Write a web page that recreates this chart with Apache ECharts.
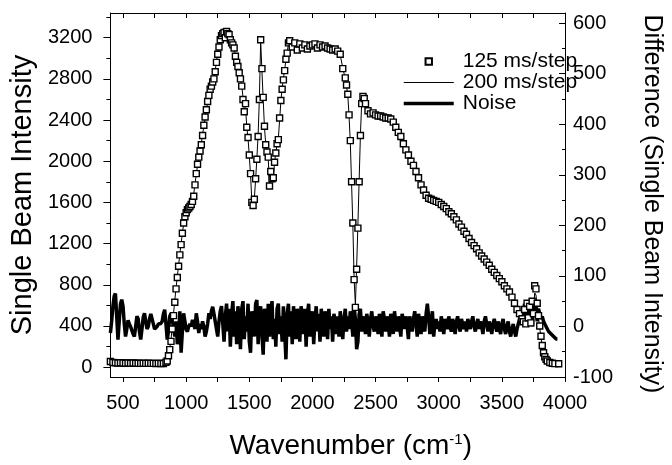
<!DOCTYPE html>
<html>
<head>
<meta charset="utf-8">
<script src="https://cdn.jsdelivr.net/npm/echarts@6.0.0/dist/echarts.min.js"></script>
<style>
  html, body { margin: 0; padding: 0; background: #fff; }
  #chart { width: 672px; height: 465px; }
</style>
</head>
<body>
<div id="chart"></div>
<script>
// wavenumber grid of the two scans (cm-1), finer where the spectrum is steep
const wavenumber = [
  400, 420, 440, 460, 480, 500, 520, 540, 560, 580, 600, 620, 640, 660, 680, 700, 720, 740, 760, 780, 800, 820, 840,
  850, 860, 870, 880, 890, 900, 910, 920, 930, 940, 950, 960, 970, 980, 990, 1000, 1010, 1020, 1030, 1040, 1050, 1060, 1070, 1080, 1090, 1100,
  1110, 1120, 1130, 1140, 1150, 1160, 1170, 1180, 1190, 1200, 1210, 1220, 1230, 1240, 1250, 1260, 1270, 1280, 1290, 1300,
  1310, 1320, 1330, 1340, 1350, 1360, 1370, 1380, 1390, 1400, 1410, 1420, 1430, 1440,
  1450, 1460, 1470, 1480, 1490, 1500, 1510, 1520, 1530, 1540, 1550, 1560, 1570, 1580, 1590, 1600, 1610, 1620, 1630, 1640, 1650, 1660, 1670, 1680, 1690, 1700, 1710, 1720, 1730, 1740, 1750, 1760, 1770, 1780, 1790, 1800, 1810, 1820,
  1840, 1860, 1880, 1900, 1920, 1940, 1960, 1980, 2000, 2020, 2040, 2060, 2080, 2100, 2120, 2140, 2160, 2180, 2200, 2220, 2240, 2260,
  2270, 2280, 2290, 2300, 2310, 2320, 2330, 2340, 2350, 2360, 2370, 2380, 2390, 2400, 2410, 2420,
  2440, 2460, 2480, 2500, 2520, 2540, 2560, 2580, 2600, 2620, 2640, 2660, 2680, 2700, 2720, 2740, 2760, 2780, 2800, 2820, 2840, 2860, 2880, 2900, 2920, 2940, 2960, 2980, 3000, 3020,
  3040, 3060, 3080, 3100, 3120, 3140, 3160, 3180, 3200, 3220, 3240, 3260, 3280, 3300, 3320, 3340, 3360, 3380, 3400, 3420, 3440, 3460, 3480, 3500, 3520, 3540, 3560, 3580, 3600, 3620, 3640, 3660,
  3670, 3680, 3690, 3700, 3710, 3720, 3730, 3740, 3750, 3760, 3770, 3780, 3790, 3800, 3810, 3820, 3830, 3840, 3850, 3860,
  3880, 3900, 3920, 3950
]

// single beam intensity, 125 ms/step (squares)
const scan125 = [
  55, 45, 42, 40, 42, 40, 38, 40, 38, 40, 38, 38, 36, 38, 36, 38, 36, 36, 35, 36, 35, 35, 48,
  60, 110, 170, 250, 370, 500, 630, 760, 870, 980, 1090, 1190, 1300, 1400, 1460, 1500, 1530, 1545, 1560, 1580, 1610, 1660, 1770, 1880, 1970, 2040,
  2100, 2160, 2250, 2350, 2430, 2500, 2580, 2640, 2700, 2730, 2770, 2800, 2870, 2960, 3040, 3110, 3180, 3220, 3240, 3250,
  3200, 3260, 3240, 3230, 3180, 3150, 3130, 3100, 3020, 2960, 2920, 2860, 2800, 2730,
  2600, 2480, 2560, 2330, 2230, 2060, 1880, 1600, 1570, 1630, 1830, 2020, 2240, 2600, 3180, 2900, 2620, 2340, 2160, 2090, 2040, 1760, 1900, 1830, 1840, 1990, 2080, 2170, 2210, 2420, 2590, 2700, 2790, 2880, 2990, 3050, 3150, 3170,
  3110, 3150, 3080, 3140, 3100, 3130, 3090, 3120, 3130, 3140, 3100, 3130, 3110, 3120, 3100, 3090, 3080, 3090, 3070, 3040, 2900, 2810,
  2740, 2650, 2450, 2200, 1800, 1400, 850, 580, 950, 1350, 1800, 2250, 2560, 2630, 2610, 2560,
  2490, 2460, 2470, 2450, 2440, 2440, 2430, 2420, 2420, 2410, 2380, 2330, 2280, 2240, 2170, 2110, 2060, 2000, 1960, 1900, 1840, 1770, 1720, 1670, 1640, 1630, 1620, 1610, 1600, 1580,
  1560, 1540, 1510, 1490, 1460, 1430, 1390, 1360, 1320, 1290, 1250, 1210, 1180, 1150, 1110, 1080, 1050, 1020, 990, 950, 920, 890, 860, 830, 790, 760, 730, 680, 620, 560, 520, 470,
  440, 560, 420, 620, 480, 590, 430, 640, 520, 790, 760, 620, 500, 400, 300, 210, 140, 100, 75, 60,
  45, 38, 34, 32
]

// single beam intensity, 200 ms/step (thin line)
const scan200 = [
  50, 44, 40, 41, 40, 40, 39, 39, 38, 39, 38, 37, 37, 37, 36, 37, 36, 35, 35, 35, 35, 36, 45,
  65, 120, 180, 270, 390, 520, 650, 770, 880, 990, 1100, 1200, 1300, 1390, 1450, 1490, 1520, 1550, 1570, 1590, 1620, 1680, 1780, 1870, 1960, 2030,
  2100, 2170, 2260, 2340, 2420, 2510, 2570, 2630, 2690, 2740, 2780, 2810, 2880, 2970, 3050, 3120, 3170, 3210, 3230, 3240,
  3220, 3250, 3240, 3220, 3190, 3160, 3120, 3090, 3030, 2970, 2910, 2850, 2790, 2740,
  2620, 2500, 2520, 2340, 2220, 2050, 1860, 1620, 1580, 1640, 1820, 2030, 2260, 2620, 3170, 2880, 2600, 2330, 2170, 2100, 2020, 1780, 1880, 1820, 1850, 1980, 2090, 2160, 2220, 2400, 2580, 2710, 2800, 2890, 2980, 3060, 3140, 3160,
  3120, 3140, 3090, 3130, 3110, 3120, 3100, 3110, 3120, 3130, 3110, 3120, 3110, 3110, 3100, 3090, 3090, 3080, 3070, 3030, 2910, 2800,
  2730, 2640, 2440, 2180, 1780, 1380, 860, 600, 970, 1380, 1820, 2260, 2570, 2620, 2600, 2550,
  2480, 2470, 2460, 2450, 2440, 2430, 2430, 2420, 2410, 2400, 2370, 2320, 2270, 2230, 2160, 2100, 2050, 1990, 1950, 1890, 1830, 1770, 1710, 1670, 1640, 1630, 1620, 1600, 1590, 1580,
  1560, 1530, 1510, 1480, 1450, 1420, 1390, 1350, 1320, 1280, 1240, 1210, 1170, 1140, 1110, 1080, 1050, 1010, 980, 950, 920, 890, 860, 820, 790, 750, 720, 670, 610, 560, 510, 480,
  480, 520, 470, 560, 500, 560, 480, 600, 560, 720, 700, 600, 480, 380, 290, 200, 140, 100, 75, 60,
  44, 38, 34, 32
]

// difference of the two scans (right axis), one value every 10 cm-1 from 400
const noiseStart = 400
const noiseStep = 10
const noise = [
  -13, 10, 40, 60, 65, 20, -26, 10, 45, 53,
  40, 5, -20, -5, 12, 5, 0, -8, -15, -20,
  0, 20, 15, -10, -26, -5, 18, 26, 10, -5,
  0, 15, 25, 15, 5, -5, -6, 0, 5, 8,
  6, 10, 25, 33, 5, -26, -10, 20, 26, 10,
  0, -20, 10, -35, -20, 30, -52, -10, 26, 10,
  -6, -10, 0, 5, 0, 13, 10, -5, 26, 10,
  -13, 5, -5, 10, 0, -20, -10, 5, 26, 15,
  30, 39, 25, 10, -5, -20, 10, 30, 40, 5,
  -30, 20, 45, -10, 35, -40, 25, 50, -20, 30,
  -35, 40, 10, -45, 35, 50, -25, 20, -10, 45,
  -30, -52, 30, 15, -20, 45, 52, -35, 20, 40,
  -15, -56, 35, 10, -30, 45, -20, 30, 50, -25,
  15, -40, 35, 45, -15, 20, -30, 40, -10, -65,
  25, 45, -20, 30, -35, 40, 10, -25, 35, 5,
  -30, 40, 20, -15, 35, -40, 25, 45, -20, 10,
  30, -35, 15, 40, -10, 25, -30, 35, 5, -20,
  30, 15, -25, 35, -5, 20, -30, 25, 10, -15,
  20, -20, 30, 5, -25, 15, 35, -10, 20, -5,
  30, 10, -20, 40, 15, -45, -30, 25, 35, -10,
  20, 5, -15, 25, 10, -20, 15, 30, 0, -10,
  20, 10, -15, 25, 5, -20, 30, 15, -10, 20,
  5, -20, 25, 10, -15, 30, 5, -10, 20, 0,
  -20, 25, 15, -5, 20, 0, -25, 20, 10, -10,
  15, 30, 5, -20, 25, 10, -15, 20, 0, -10,
  25, 45, 20, -15, 10, 30, -20, 5, 15, -5,
  10, -10, 20, 5, -15, 15, 5, -5, 20, 0,
  -10, 15, 5, -15, 10, 20, 0, -10, 15, 5,
  -5, 10, -10, 15, 5, -5, 10, 20, 0, -10,
  5, 15, -5, 10, 0, -15, 10, 20, 5, -10,
  10, 0, -15, 5, 15, 0, -10, 10, -5, -15,
  5, 15, -5, -15, 0, 10, -10, -20, -5, 5,
  -10, -20, -5, 5, 15, 25, 10, 30, 45, 20,
  50, 15, 35, 55, 0, 40, 20, 50, 10, 35,
  25, 15, 20, 10, 5, 0, -5, -10, -10, -15,
  -15, -20, -20, -25, -25
]

// tick marks and labels
const xLabelValues = [500, 1000, 1500, 2000, 2500, 3000, 3500, 4000]
const xTickValues = [500, 750, 1000, 1250, 1500, 1750, 2000, 2250, 2500, 2750, 3000, 3250, 3500, 3750, 4000]
const leftLabelValues = [0, 400, 800, 1200, 1600, 2000, 2400, 2800, 3200]
const leftMinorValues = [200, 600, 1000, 1400, 1800, 2200, 2600, 3000, 3400]
const rightLabelValues = [-100, 0, 100, 200, 300, 400, 500, 600]
const rightMinorValues = [-50, 50, 150, 250, 350, 450, 550]

const FONT = "'Liberation Sans', Arial, Helvetica, sans-serif"
const LEFT_MIN = -96, LEFT_MAX = 3440
const RIGHT_MIN = -100, RIGHT_MAX = 620

function pairs (xs, ys) {
  return ys.map(function (v, i) { return [xs[i], v] })
}

// plain numbers, no thousands separator
function plain (v) {
  return String(v)
}

let chart = echarts.init(document.getElementById('chart'), null, { renderer: 'canvas' })

let blackLine = { color: '#000', width: 1 }

let option = {
  backgroundColor: '#fff',
  animation: false,
  grid: { left: 104, right: 87, top: 13, bottom: 85 },
  legend: {
    orient: 'vertical',
    left: 397,
    top: 46,
    itemWidth: 50,
    itemHeight: 8,
    itemGap: 0,
    selectedMode: false,
    textStyle: { fontSize: 21, color: '#000', fontFamily: FONT, lineHeight: 18, padding: [0, 0, 0, 4] },
    data: [
      { name: '125 ms/step' },
      { name: '200 ms/step', itemStyle: { opacity: 0 }, lineStyle: { width: 1.2 } },
      { name: 'Noise', itemStyle: { opacity: 0 }, lineStyle: { width: 3.5 } }
    ]
  },
  xAxis: [{
    type: 'value',
    position: 'bottom',
    min: 400,
    max: 4000,
    axisLine: { show: true, onZero: false, lineStyle: blackLine },
    axisTick: { show: true, customValues: xTickValues, length: 5, lineStyle: blackLine },
    axisLabel: { customValues: xLabelValues, formatter: plain, fontSize: 20, color: '#000', fontFamily: FONT, margin: 16 },
    splitLine: { show: false },
    name: 'Wavenumber (cm{s|-1})',
    nameLocation: 'middle',
    nameGap: 55,
    nameTextStyle: {
      fontSize: 28, color: '#000', fontFamily: FONT, padding: [0, 0, 0, 26],
      rich: { s: { fontSize: 15, color: '#000', fontFamily: FONT, verticalAlign: 'top' } }
    }
  }, {
    type: 'value',
    position: 'top',
    min: 400,
    max: 4000,
    axisLine: { show: true, onZero: false, lineStyle: blackLine },
    axisTick: { show: true, inside: true, customValues: xTickValues, length: 5, lineStyle: blackLine },
    axisLabel: { show: false },
    splitLine: { show: false }
  }],
  yAxis: [{
    type: 'value',
    position: 'left',
    min: LEFT_MIN,
    max: LEFT_MAX,
    axisLine: { show: true, onZero: false, lineStyle: blackLine },
    axisTick: { show: true, customValues: leftLabelValues, length: 7, lineStyle: blackLine },
    axisLabel: { customValues: leftLabelValues, formatter: plain, fontSize: 20, color: '#000', fontFamily: FONT, margin: 18 },
    splitLine: { show: false },
    name: 'Single Beam Intensity',
    nameLocation: 'middle',
    nameGap: 66,
    nameTextStyle: { fontSize: 29, color: '#000', fontFamily: FONT }
  }, {
    type: 'value',
    position: 'left',
    min: LEFT_MIN,
    max: LEFT_MAX,
    axisLine: { show: false },
    axisTick: { show: true, customValues: leftMinorValues, length: 4, lineStyle: blackLine },
    axisLabel: { show: false },
    splitLine: { show: false }
  }, {
    type: 'value',
    position: 'right',
    min: RIGHT_MIN,
    max: RIGHT_MAX,
    axisLine: { show: true, onZero: false, lineStyle: blackLine },
    axisTick: { show: true, inside: true, customValues: rightLabelValues, length: 6, lineStyle: blackLine },
    axisLabel: { customValues: rightLabelValues, formatter: plain, fontSize: 20, color: '#000', fontFamily: FONT, margin: 8 },
    splitLine: { show: false },
    name: 'Difference (Single Beam Intensity)',
    nameLocation: 'middle',
    nameRotate: -90,
    nameGap: 74,
    nameTextStyle: { fontSize: 25, color: '#000', fontFamily: FONT, padding: [0, 0, 0, 18] }
  }, {
    type: 'value',
    position: 'right',
    min: RIGHT_MIN,
    max: RIGHT_MAX,
    axisLine: { show: false },
    axisTick: { show: true, inside: true, customValues: rightMinorValues, length: 3, lineStyle: blackLine },
    axisLabel: { show: false },
    splitLine: { show: false }
  }],
  series: [{
    name: 'Noise',
    type: 'line',
    xAxisIndex: 0,
    yAxisIndex: 2,
    symbol: 'none',
    data: noise.map(function (v, i) { return [noiseStart + i * noiseStep, v] }),
    itemStyle: { color: '#000' },
    lineStyle: { color: '#000', width: 3.5 },
    z: 2
  }, {
    name: '200 ms/step',
    type: 'line',
    xAxisIndex: 0,
    yAxisIndex: 0,
    symbol: 'none',
    data: pairs(wavenumber, scan200),
    itemStyle: { color: '#000' },
    lineStyle: { color: '#000', width: 1 },
    z: 3
  }, {
    name: '125 ms/step',
    type: 'line',
    xAxisIndex: 0,
    yAxisIndex: 0,
    symbol: 'rect',
    symbolSize: 6,
    showSymbol: true,
    showAllSymbol: true,
    data: pairs(wavenumber, scan125),
    itemStyle: { color: '#fff', borderColor: '#000', borderWidth: 1.4 },
    lineStyle: { opacity: 0 },
    z: 4
  }]
}

chart.setOption(option)
</script>
</body>
</html>
